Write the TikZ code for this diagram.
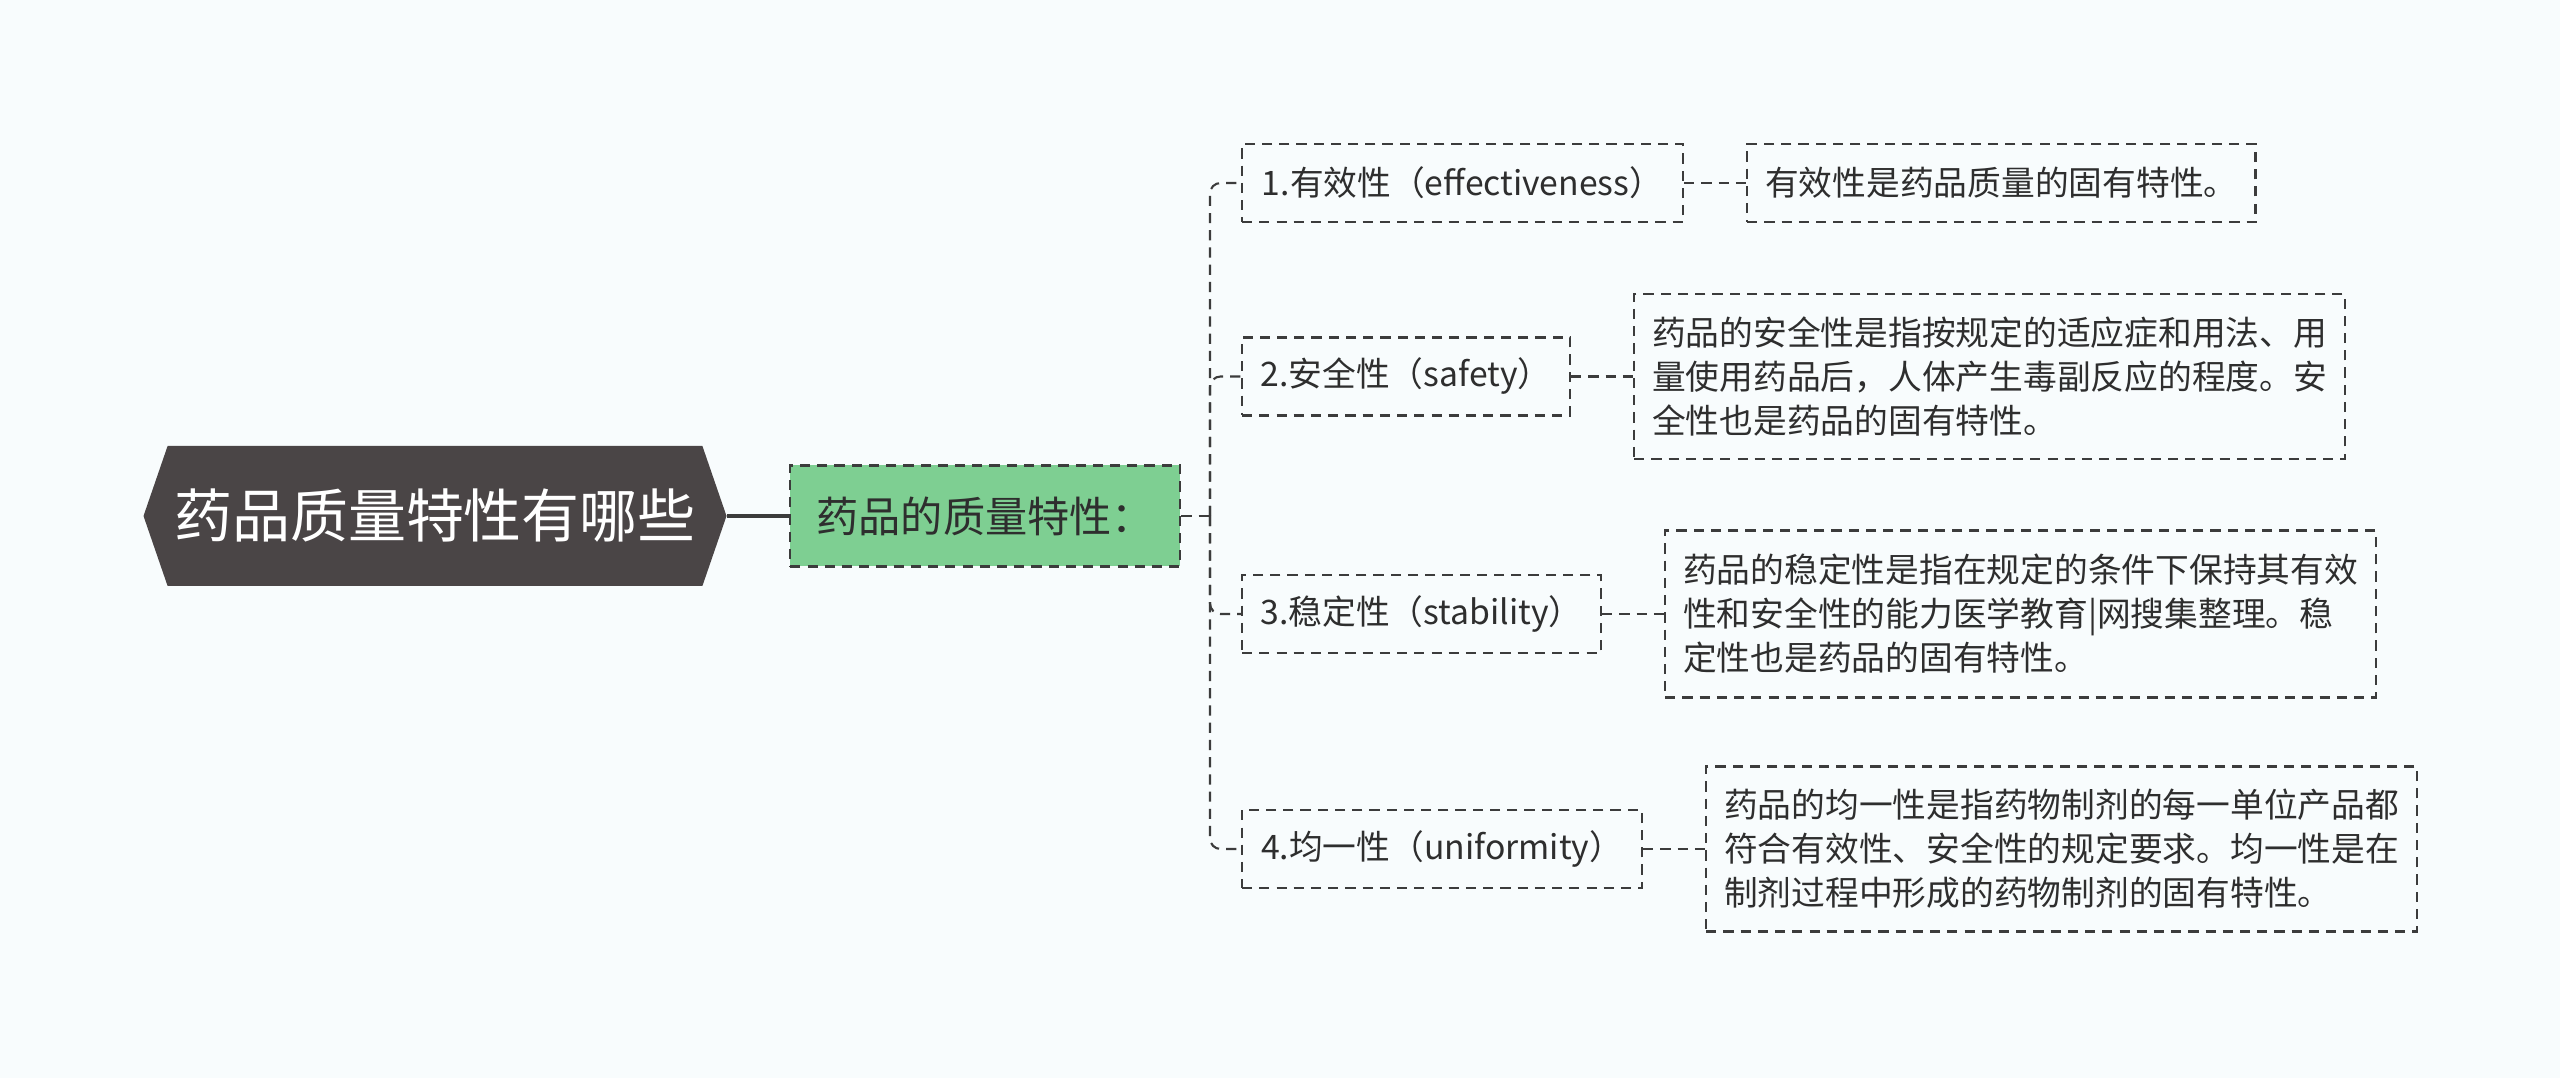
\documentclass[tikz,border=0pt]{standalone}
\usepackage{fontspec}
\setmainfont{Noto Sans CJK SC}
\usepackage{xcolor}
\usepackage{tikz}
\usetikzlibrary{positioning,shapes.symbols}

\definecolor{bgcol}{HTML}{F8FCFD}
\definecolor{rootfill}{HTML}{4A4546}
\definecolor{subfill}{HTML}{7ECF92}
\definecolor{linecol}{HTML}{3C3C3C}
\definecolor{txtcol}{HTML}{2E2E2E}

\begin{document}
\begin{tikzpicture}[
    link/.style={draw=linecol, line width=0.6pt, dash pattern=on 2.9pt off 2pt},
    rootbox/.style={signal, signal to=west and east, signal pointer angle=142,
        fill=rootfill, text=white, inner sep=0pt,
        minimum width=5.83cm, minimum height=1.40cm,
        font=\fontsize{16.5}{20}\selectfont},
    subbox/.style={link, fill=subfill, text=txtcol,
        minimum width=3.90cm, minimum height=1.01cm,
        font=\fontsize{12}{15}\selectfont},
    itembox/.style={link, text=txtcol, anchor=west, minimum height=0.78cm,
        font=\fontsize{9.6}{12.5}\selectfont},
    leafbox/.style={link, text=txtcol, align=left, inner xsep=0.18cm,
        minimum height=0.78cm, font=\fontsize{9.6}{12.5}\selectfont}
]
\useasboundingbox[fill=bgcol] (0,0) rectangle (25.6,-10.78);

% centre and first level
\node[rootbox] (root) at (4.35,-5.16) {药品质量特性有哪些};
\node[subbox, right=0.62cm of root] (sub) {药品的质量特性：};
\draw[linecol, line width=0.9pt] (root.east) -- (sub.west);
\coordinate (fork) at (12.10,-5.16);
\draw[link] (sub.east) -- (fork);

% the four properties
\node[itembox, minimum width=4.41cm] (c1) at (12.41,-1.83) {1.有效性（effectiveness）};
\node[itembox, minimum width=3.28cm] (c2) at (12.41,-3.765) {2.安全性（safety）};
\node[itembox, minimum width=3.59cm] (c3) at (12.41,-6.14) {3.稳定性（stability）};
\node[itembox, minimum width=4.00cm] (c4) at (12.41,-8.49) {4.均一性（uniformity）};

% explanations
\node[leafbox, right=0.62cm of c1] (d1) {有效性是药品质量的固有特性。};
\node[leafbox, right=0.62cm of c2, minimum height=1.65cm] (d2) {药品的安全性是指按规定的适应症和用法、用\\量使用药品后，人体产生毒副反应的程度。安\\全性也是药品的固有特性。};
\node[leafbox, right=0.62cm of c3, minimum height=1.67cm] (d3) {药品的稳定性是指在规定的条件下保持其有效\\性和安全性的能力医学教育|网搜集整理。稳\\定性也是药品的固有特性。};
\node[leafbox, right=0.62cm of c4, minimum height=1.65cm] (d4) {药品的均一性是指药物制剂的每一单位产品都\\符合有效性、安全性的规定要求。均一性是在\\制剂过程中形成的药物制剂的固有特性。};

\foreach \i in {1,...,4} {
    \draw[link, rounded corners=3pt] (fork) |- (c\i.west);
    \draw[link] (c\i.east) -- (d\i.west);
}
\end{tikzpicture}
\end{document}
